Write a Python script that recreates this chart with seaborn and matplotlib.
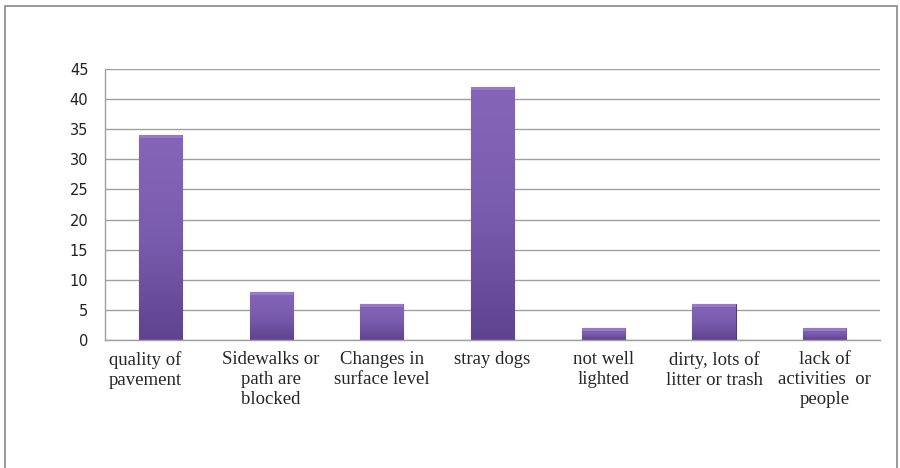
import matplotlib
matplotlib.use('Agg')
import matplotlib.pyplot as plt
import matplotlib.patches as mpatches
import matplotlib.transforms as mtransforms
from matplotlib.colors import LinearSegmentedColormap
import numpy as np
import pandas as pd
import seaborn as sns

# data
categories = ['quality of\npavement', 'Sidewalks or\npath are\nblocked', 'Changes in\nsurface level',
              'stray dogs', 'not well\nlighted', 'dirty, lots of\nlitter or trash',
              'lack of\nactivities  or\npeople']
counts = [34, 8, 6, 42, 2, 6, 2]
y_ticks = [0, 5, 10, 15, 20, 25, 30, 35, 40, 45]

df = pd.DataFrame({'category': categories, 'count': counts})

sns.set_style('white')

fig = plt.figure(figsize=(9, 4.68), dpi=100)
ax = fig.add_axes([0.1167, 0.2735, 0.8611, 0.5791])

sns.barplot(data=df, x='category', y='count', color='#7459A6', width=0.39,
            edgecolor='#4e3878', linewidth=0.8, ax=ax)

# vertical shading on the bars (lighter at top, darker at bottom)
cmap = LinearSegmentedColormap.from_list('bar', ['#5e4390', '#7a5cae', '#8565b8'])
grad = np.linspace(0, 1, 256).reshape(-1, 1)
for p in ax.patches:
    x0, y0 = p.get_x(), p.get_y()
    w, h = p.get_width(), p.get_height()
    im = ax.imshow(grad, cmap=cmap, origin='lower', aspect='auto',
                   extent=[x0, x0 + w, y0, y0 + h], zorder=p.get_zorder() + 0.1)
    im.set_clip_path(p)
    # light bevel on top
    ax.add_patch(mpatches.Rectangle((x0, y0 + h - 0.5), w, 0.5, color='#a58ad6',
                                    alpha=0.6, zorder=p.get_zorder() + 0.2, lw=0))

ax.set_xlim(-0.5, len(categories) - 0.5)
ax.set_ylim(0, 45)
ax.set_yticks(y_ticks)
ax.yaxis.grid(True, color='#a0a0a0', linewidth=1)
ax.set_axisbelow(True)
ax.set_xlabel('')
ax.set_ylabel('')

for side in ['top', 'right']:
    ax.spines[side].set_visible(False)
for side in ['left', 'bottom']:
    ax.spines[side].set_color('#a0a0a0')
    ax.spines[side].set_linewidth(1)

ax.tick_params(axis='both', length=0)
ax.tick_params(axis='y', pad=12, labelsize=10.5, labelcolor='#222222')
ax.tick_params(axis='x', pad=8)
ax.set_yticklabels([str(v) for v in y_ticks], family=['DejaVu Sans'])
ax.set_xticks(range(len(categories)))
ax.set_xticklabels(categories, family=['Liberation Serif'], fontsize=13.5,
                   linespacing=1.22, ha='center', va='top')

# first label sits shifted left in the original
first = ax.get_xticklabels()[0]
first.set_multialignment('left')
first.set_transform(first.get_transform() +
                    mtransforms.ScaledTranslation(-15 / 100, 0, fig.dpi_scale_trans))

# outer chart border
fig.patches.append(mpatches.Rectangle((5 / 900, -0.02), 892 / 900, 1 - 6 / 468 + 0.02,
                                      transform=fig.transFigure, fill=False,
                                      edgecolor='#888888', linewidth=1.2))

plt.savefig('out.png', dpi=100)
